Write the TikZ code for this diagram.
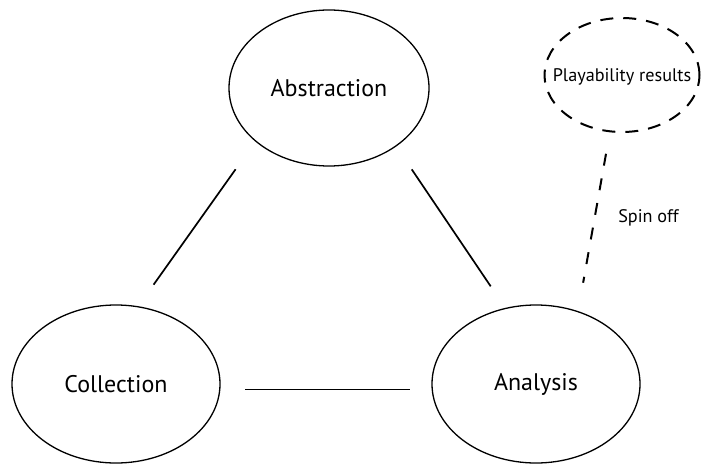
\documentclass[tikz,border=0pt]{standalone}
\usepackage{fontspec}
\setmainfont{PT Sans}
\usetikzlibrary{shapes.geometric}

\begin{document}
\begin{tikzpicture}[x=0.5pt,y=-0.5pt]

        \useasboundingbox (0,0) rectangle (701,465);

        \begin{scope}[every node/.style={ellipse,draw,line width=0.65pt,inner sep=0pt,
                      font=\fontsize{12}{14}\selectfont}]
          \node[minimum width=100pt,minimum height=78pt] (abs) at (329,88)  {Abstraction};
          \node[minimum width=104pt,minimum height=79pt] (col) at (116,384) {Collection};
          \node[minimum width=104pt,minimum height=79pt] (ana) at (536,384) {Analysis};
          \node[minimum width=77.5pt,minimum height=57pt,line width=1pt,
                dash pattern=on 6.5pt off 5pt,
                label={[font=\fontsize{9.1}{11}\selectfont,yshift=-1pt]center:Playability results}]
                (res) at (622,75) {};
        \end{scope}

        \begin{scope}[every edge/.style={draw,line width=0.85pt}]
          \path (abs.216)  edge[shorten <=17pt,shorten >=13.2pt] (col.74.5);
          \path (abs.319)  edge[shorten <=13.8pt,shorten >=13pt] (ana.112.8);
          \path (col.-3)   edge[shorten <=12.5pt,shorten >=11pt] (ana.183);
          \path (res.258)  edge[line width=1pt,dash pattern=on 6pt off 6.5pt,
                                shorten <=10.9pt,shorten >=14.4pt]
                node[pos=0.48,right=8pt,font=\fontsize{9.1}{11}\selectfont] (spin) {Spin off}
                (ana.60.7);
        \end{scope}

      \end{tikzpicture}
\end{document}
